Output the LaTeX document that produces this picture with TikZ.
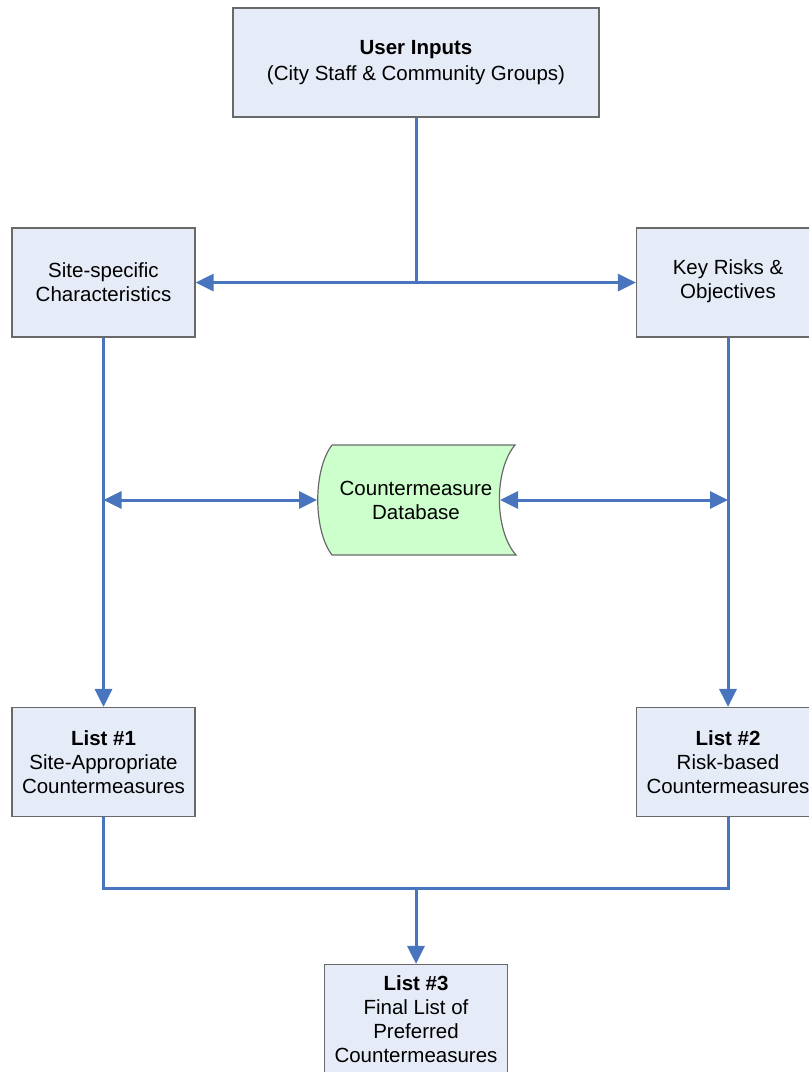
\documentclass[tikz,border=0pt]{standalone}
\usepackage{fontspec}
\setmainfont{Liberation Sans}
\usetikzlibrary{arrows.meta}
\definecolor{boxfill}{RGB}{230,236,247}
\definecolor{boxline}{RGB}{105,105,105}
\definecolor{dbfill}{RGB}{204,255,204}
\definecolor{flow}{RGB}{72,117,189}
\begin{document}
\begin{tikzpicture}[x=1pt,y=-1pt,
  stage/.style={draw=boxline, line width=1.2pt, fill=boxfill, minimum width=183pt,
    minimum height=109pt, inner sep=0pt, align=center, font=\fontsize{20.5}{24}\selectfont},
  link/.style={draw=flow, line width=3pt},
  >={Triangle[length=18pt,width=17pt]}]
\useasboundingbox (0,0) rectangle (809,1072);
\node[stage, minimum width=366pt, font=\fontsize{20.5}{26}\selectfont] (user) at (416,62.5){\textbf{User Inputs}\\(City Staff \& Community Groups)};
\node[stage] (site) at (103.5,282.5){Site-specific\\Characteristics};
\node[stage] (key) at (728,282.5){Key Risks \&\\Objectives\strut};
\node[stage] (list1) at (103.5,762){\textbf{List \#1}\\Site-Appropriate\\Countermeasures};
\node[stage] (list2) at (728,762){\textbf{List \#2}\\Risk-based\\Countermeasures};
\node[stage] (list3) at (416,1019){\textbf{List \#3}\\Final List of\\Preferred\\Countermeasures};
% database
\draw[draw=boxline, line width=1.2pt, fill=dbfill] (332,445) -- (515,445)
  .. controls (494,470) and (494,530) .. (516,555) -- (332,555)
  .. controls (313,530) and (313,470) .. (332,445);
\node[align=center, font=\fontsize{20.5}{24}\selectfont] (db) at (416,500){Countermeasure\\Database};
\coordinate (dbw) at (317,500);
\coordinate (dbe) at (500,500);
\coordinate (j1) at (user.south |- site.east);
\coordinate (j2) at (site.south |- db);
\coordinate (j3) at (key.south |- db);
\coordinate (j4) at (416,888);
% connectors
\draw[link] (user.south) -- (j1);
\draw[link,->] (j1) -- (site.east);
\draw[link,->] (j1) -- (key.west);
\draw[link,->] (site.south) -- (list1.north);
\draw[link,->] (key.south) -- (list2.north);
\draw[link,<->] (j2) -- (dbw);
\draw[link,<->] (dbe) -- (j3);
\draw[link] (list1.south) |- (j4) -| (list2.south);
\draw[link,->] (j4) -- (list3.north);
\end{tikzpicture}
\end{document}
